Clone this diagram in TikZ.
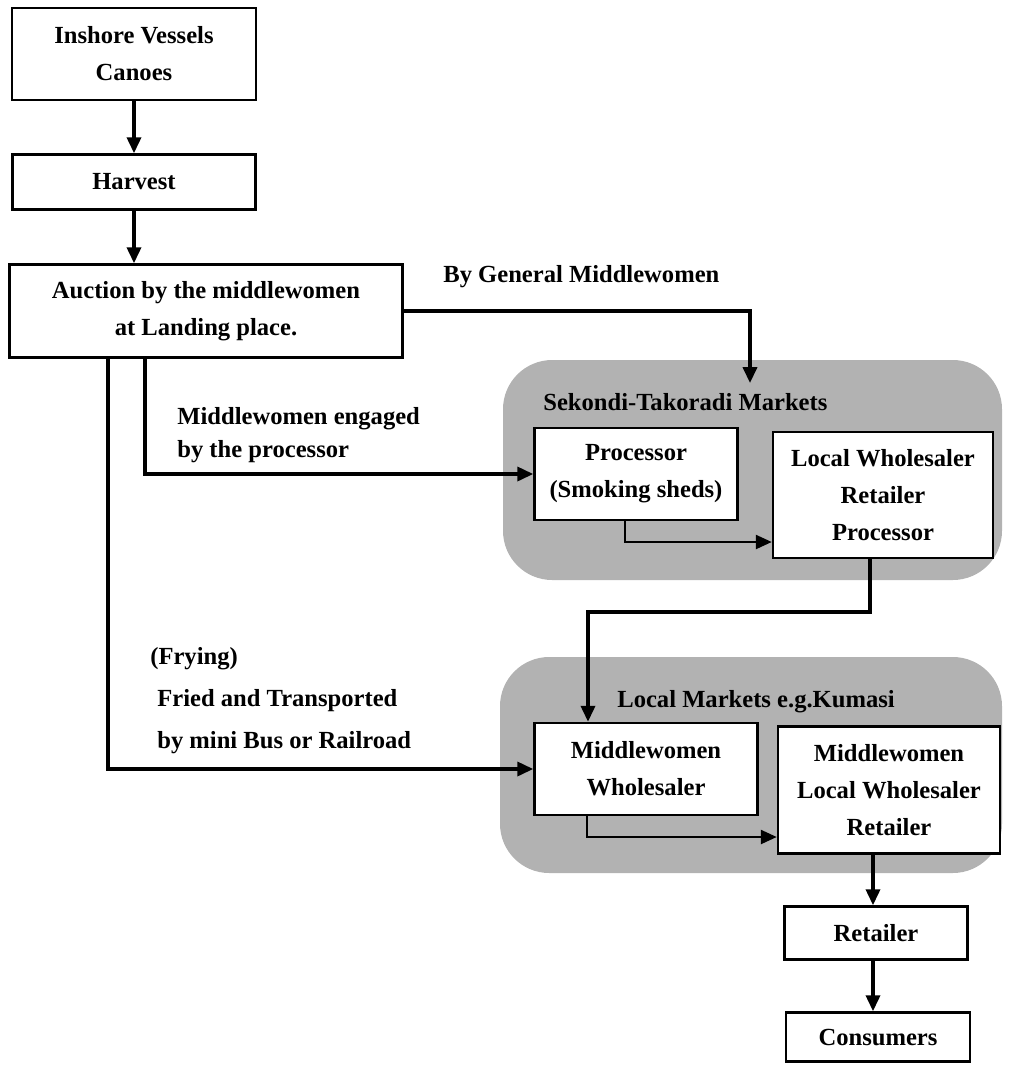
\documentclass[tikz,border=0pt]{standalone}
\usepackage{fontspec}
\setmainfont{Liberation Serif}
\usetikzlibrary{arrows.meta}
\definecolor{marketgray}{gray}{0.70}

\tikzset{
  flowbox/.style={draw, line width=1.5pt, align=center, inner sep=2pt,
    font=\fontsize{14}{21}\selectfont\bfseries},
  market/.style={fill=marketgray, rounded corners=28pt},
  flowlabel/.style={anchor=west, inner sep=0pt, align=left,
    font=\fontsize{14}{19}\selectfont\bfseries},
  flowarrow/.style={line width=1.8pt, -{Triangle[length=9pt,width=8pt]}}
}

\begin{document}
\begin{tikzpicture}[x=0.02cm, y=-0.02cm]
  \useasboundingbox (0,0) rectangle (1020,1066);
  % market areas
  \fill[market] (503,360) rectangle (1002,580);
  \fill[market] (500,657) rectangle (1002,873);

  \node[flowbox, minimum width=4.88cm, minimum height=1.84cm] (vessels) at (134,54) {Inshore Vessels\\Canoes};
  \node[flowbox, minimum width=4.86cm, minimum height=1.1cm] (harvest) at (134,182) {Harvest};
  \node[flowbox, minimum width=7.86cm, minimum height=1.86cm] (auction) at (206,311) {Auction by the middlewomen\\at Landing place.};
  \node[flowbox, fill=white, minimum width=4.06cm, minimum height=1.84cm] (processor) at (636,474) {Processor\\(Smoking sheds)};
  \node[flowbox, fill=white, minimum width=4.4cm, minimum height=2.52cm] (wholesaler) at (883,495) {Local Wholesaler\\Retailer\\Processor};
  \node[flowbox, fill=white, minimum width=4.46cm, minimum height=1.84cm] (mwholesaler) at (646,769) {Middlewomen\\Wholesaler};
  \node[flowbox, fill=white, minimum width=4.44cm, minimum height=2.54cm] (mretailer) at (889,790) {Middlewomen\\Local Wholesaler\\Retailer};
  \node[flowbox, minimum width=3.66cm, minimum height=1.06cm] (retailer) at (876,933) {Retailer};
  \node[flowbox, minimum width=3.68cm, minimum height=0.98cm] (consumers) at (878,1037) {Consumers};

  \node[flowlabel] (sktitle) at (543,402) {Sekondi-Takoradi Markets};
  \node[flowlabel] (lmtitle) at (617,702) {Local Markets e.g.Kumasi};
  \node[flowlabel] (general) at (443,277) {By General Middlewomen};
  \node[flowlabel] (engaged) at (177,435) {Middlewomen engaged\\by the processor};
  \node[flowlabel] (frying) at (150,659) {(Frying)};
  \node[flowlabel] (fried) at (157,701) {Fried and Transported};
  \node[flowlabel] (minibus) at (157,743) {by mini Bus or Railroad};

  \coordinate (skentry) at (750,383);

  \draw[flowarrow] (vessels.south) -- (harvest.north);
  \draw[flowarrow] (harvest.south) -- (harvest.south |- auction.north);
  \draw[flowarrow] (auction.east) -| (skentry);
  \draw[flowarrow] (145,0 |- auction.south) |- (processor.west);
  \draw[flowarrow] (108,0 |- auction.south) |- (mwholesaler.west);
  \draw[flowarrow, line width=1.1pt] (625,0 |- processor.south) |- (wholesaler.west |- 0,542);
  \draw[flowarrow] (870,0 |- wholesaler.south) -- (870,612) -| (588,0 |- mwholesaler.north);
  \draw[flowarrow, line width=1.1pt] (587,0 |- mwholesaler.south) |- (mretailer.west |- 0,837);
  \draw[flowarrow] (873,0 |- mretailer.south) -- (873,0 |- retailer.north);
  \draw[flowarrow] (873,0 |- retailer.south) -- (873,0 |- consumers.north);
\end{tikzpicture}
\end{document}
